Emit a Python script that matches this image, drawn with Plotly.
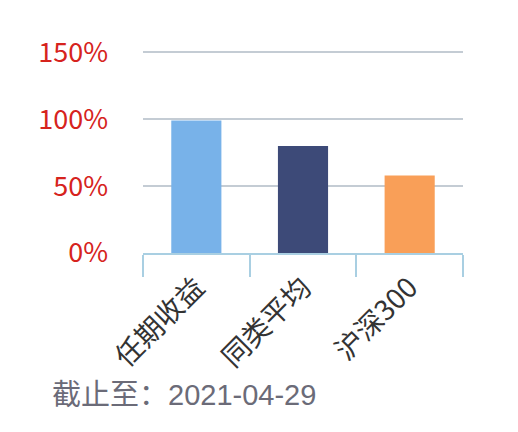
import plotly.graph_objects as go

categories = ["任期收益", "同类平均", "沪深300"]
values = [99, 80, 58]
colors = ["#78b2e9", "#3d4a78", "#f99f58"]
y_ticks = [0, 50, 100, 150]
y_labels = ["0%", "50%", "100%", "150%"]
footer = "截止至：2021-04-29"

fig = go.Figure(go.Bar(x=categories, y=values, marker_color=colors,
                       marker_line_width=0, width=0.47))

# page body has an 8px margin, so the figure is shrunk by that much
fig.update_layout(
    width=510, height=424,
    margin={'l': 135, 'r': 55, 't': 43, 'b': 179},
    paper_bgcolor='#ffffff', plot_bgcolor='#ffffff',
    showlegend=False,
    font=dict(family="Noto Sans CJK SC", color="#333333"),
)
fig.update_xaxes(
    tickangle=-45, tickson='boundaries', ticks='outside', ticklen=22,
    tickcolor='#a9cfe2', tickwidth=2, showline=True, linecolor='#a9cfe2',
    linewidth=2, tickfont=dict(size=28, color='#333333'),
    ticklabelstandoff=5,
)
fig.update_yaxes(
    range=[0, 151], tickvals=y_ticks, ticktext=y_labels,
    showgrid=True, gridcolor='#c4ccd4', gridwidth=1.5, zeroline=False,
    tickfont=dict(size=27, color='#d6231d'), ticklabelstandoff=34,
)
fig.add_annotation(text=footer, xref='paper', yref='paper',
                   x=(42 - 135) / 320, y=(245 - 387) / 202,
                   xanchor='left', yanchor='middle', showarrow=False,
                   font=dict(size=29, color='#6b6b78',
                             family="Liberation Sans, Noto Sans CJK SC"))

fig.write_html("out.html")
